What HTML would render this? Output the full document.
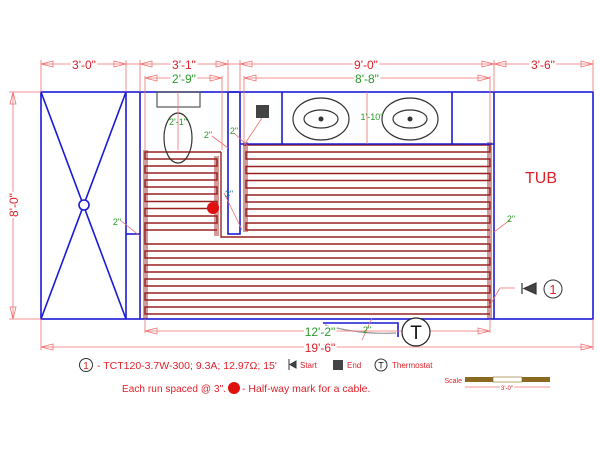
<!DOCTYPE html>
<html><head><meta charset="utf-8"><style>
html,body{margin:0;padding:0;background:#fff;width:600px;height:450px;overflow:hidden}
svg{display:block}
text{font-family:"Liberation Sans",sans-serif}
</style></head><body>
<svg width="600" height="450" viewBox="0 0 600 450" xmlns="http://www.w3.org/2000/svg">
<g fill="#c98a8a" opacity="0.85">
<rect x="143" y="150" width="5" height="169"/>
<rect x="214" y="156" width="5" height="80"/>
<rect x="243" y="142" width="5" height="90"/>
<rect x="487" y="142" width="5" height="177"/>
</g>
<g stroke="#9a2020" stroke-width="1.4" fill="none">
<path d="M221 152 H145 V159 H217 V166 H145 V173 H217 V180 H145 V187 H217 V194 H145 V201.5 H217 V208.5 H145 V216 H217 V223 H145 V230 H217"/>
<path d="M221 152 V237 H490"/>
<path d="M145 230 V237"/>
<path d="M243 145 H490 V152 H246 V159 H490 V166.5 H246 V173.5 H490 V180.5 H246 V188 H490 V195 H246 V202 H490 V209 H246 V216 H490 V223 H246 V230 H490"/>
<path d="M145 237 V244 H490 V251 H145 V258 H490 V265 H145 V272 H490 V279 H145 V286 H490 V293 H145 V300 H490 V307 H145 V314 H490"/>
</g>
<g stroke="#1a1ad6" stroke-width="1.6" fill="none">
<rect x="41" y="92" width="552" height="227"/>
<line x1="126" y1="92" x2="126" y2="319"/>
<line x1="140" y1="92" x2="140" y2="319"/>
<line x1="126" y1="234" x2="140" y2="234"/>
<line x1="41" y1="92" x2="126" y2="319"/>
<line x1="126" y1="92" x2="41" y2="319"/>
<circle cx="84" cy="205" r="5" fill="#fff"/>
<rect x="228" y="92" width="12" height="142"/>
<line x1="240" y1="144" x2="494" y2="144"/>
<line x1="282" y1="92" x2="282" y2="144"/>
<line x1="452" y1="92" x2="452" y2="144"/>
<line x1="494" y1="92" x2="494" y2="319"/>
<path d="M323 323 H398 V337"/>
</g>
<g stroke="#333" stroke-width="1.2" fill="none">
<rect x="157" y="92" width="43" height="15" stroke="#555"/>
<ellipse cx="178" cy="138" rx="14" ry="25"/>
<ellipse cx="321" cy="119" rx="28" ry="21"/>
<ellipse cx="321" cy="119" rx="17" ry="9"/>
<ellipse cx="410" cy="119" rx="28" ry="21"/>
<ellipse cx="410" cy="119" rx="17" ry="9"/>
<path d="M325 325 Q360 335 396 333" stroke="#999"/>
</g>
<circle cx="321" cy="119" r="2.5" fill="#333"/>
<circle cx="410" cy="119" r="2.5" fill="#333"/>
<rect x="256" y="105" width="13" height="13" fill="#444"/>
<circle cx="213" cy="208" r="6" fill="#e01010"/>
<g stroke="#f07070" stroke-width="0.8" fill="none">
<line x1="41" y1="64" x2="593" y2="64"/>
<line x1="145" y1="78" x2="222" y2="78"/>
<line x1="244" y1="78" x2="490" y2="78"/>
<line x1="41" y1="60" x2="41" y2="92"/><line x1="126" y1="60" x2="126" y2="92"/>
<line x1="140" y1="60" x2="140" y2="92"/><line x1="228" y1="60" x2="228" y2="92"/>
<line x1="240" y1="60" x2="240" y2="92"/><line x1="494" y1="60" x2="494" y2="92"/>
<line x1="593" y1="60" x2="593" y2="92"/>
<line x1="145" y1="76" x2="145" y2="150"/><line x1="222" y1="76" x2="222" y2="150"/>
<line x1="244" y1="76" x2="244" y2="143"/><line x1="490" y1="76" x2="490" y2="143"/>
<line x1="178" y1="92" x2="178" y2="150"/><line x1="367" y1="92" x2="367" y2="144"/>
<line x1="13" y1="92" x2="13" y2="319"/><line x1="9" y1="92" x2="41" y2="92"/><line x1="9" y1="319" x2="41" y2="319"/>
<line x1="145" y1="319" x2="145" y2="333"/><line x1="490" y1="319" x2="490" y2="333"/>
<line x1="145" y1="331" x2="490" y2="331"/>
<line x1="41" y1="319" x2="41" y2="350"/><line x1="593" y1="319" x2="593" y2="350"/>
<line x1="41" y1="347" x2="593" y2="347"/>
<path d="M41 64 l12 -3 v6z M126 64 l-12 -3 v6z M140 64 l12 -3 v6z M228 64 l-12 -3 v6z M240 64 l12 -3 v6z M494 64 l-12 -3 v6z M494 64 l12 -3 v6z M593 64 l-12 -3 v6z"/>
<path d="M145 78 l12 -3 v6z M222 78 l-12 -3 v6z M244 78 l12 -3 v6z M490 78 l-12 -3 v6z"/>
<path d="M13 92 l-3 12 h6z M13 319 l-3 -12 h6z"/>
<path d="M145 331 l12 -3 v6z M490 331 l-12 -3 v6z M41 347 l12 -3 v6z M593 347 l-12 -3 v6z"/>
<path d="M510 220 L494 232 M212 136 L228 148 M234 133 L248 146 M120 220 L140 236 M224 193 L242 230 M372 318 L362 340 M515 288 L500 288 L490 305 M262 118 L244 145"/>
</g>
<g font-size="12" fill="#e0202a" text-anchor="middle">
<text x="84" y="69" stroke="#fff" stroke-width="4" style="paint-order:stroke">3'-0"</text>
<text x="184" y="69" stroke="#fff" stroke-width="4" style="paint-order:stroke">3'-1"</text>
<text x="366" y="69" stroke="#fff" stroke-width="4" style="paint-order:stroke">9'-0"</text>
<text x="543" y="69" stroke="#fff" stroke-width="4" style="paint-order:stroke">3'-6"</text>
<text x="320" y="352" stroke="#fff" stroke-width="4" style="paint-order:stroke">19'-6"</text>
<text transform="translate(18,205) rotate(-90)" stroke="#fff" stroke-width="4" style="paint-order:stroke">8'-0"</text>
<text x="541" y="183" font-size="16">TUB</text>
</g>
<g font-size="12" fill="#2a9a2a" text-anchor="middle">
<text x="184" y="83" stroke="#fff" stroke-width="4" style="paint-order:stroke">2'-9"</text>
<text x="367" y="83" stroke="#fff" stroke-width="4" style="paint-order:stroke">8'-8"</text>
<text x="320" y="336" stroke="#fff" stroke-width="4" style="paint-order:stroke">12'-2"</text>
</g>
<g font-size="9" fill="#2a9a2a" text-anchor="middle">
<text x="178" y="125">2'-1"</text>
<text x="208" y="138">2"</text>
<text x="234" y="134">2"</text>
<text x="117" y="225">2"</text>
<text x="372" y="120">1'-10"</text>
<text x="511" y="222">2"</text>
<text x="367" y="333">2"</text>
<text x="229" y="197" fill="#2a6aa0">3"</text>
</g>
<circle cx="416" cy="332" r="14" fill="#fff" stroke="#222" stroke-width="1.2"/>
<text x="416" y="339" font-size="19" text-anchor="middle" fill="#111">T</text>
<path d="M522 283 V294 M536 283 L524 288.5 L536 294 Z" stroke="#333" fill="#444" stroke-width="1.2"/>
<circle cx="553" cy="289" r="9" fill="#fff" stroke="#333"/>
<text x="553" y="294" font-size="13" text-anchor="middle" fill="#e0202a">1</text>
<circle cx="86" cy="365" r="6.5" fill="#fff" stroke="#333"/>
<text x="86" y="369" font-size="10" text-anchor="middle" fill="#e0202a">1</text>
<text x="97" y="369" font-size="10.5" fill="#e0202a">- TCT120-3.7W-300; 9.3A; 12.97Ω; 15'</text>
<path d="M289 359 V370 M296 361 L290 364.5 L296 368 Z" stroke="#333" fill="#444"/>
<text x="300" y="368" font-size="8" fill="#e0202a">Start</text>
<rect x="333" y="360" width="10" height="10" fill="#444"/>
<text x="347" y="368" font-size="8" fill="#e0202a">End</text>
<circle cx="381" cy="365" r="6" fill="#fff" stroke="#333"/>
<text x="381" y="368.5" font-size="9" text-anchor="middle" fill="#111">T</text>
<text x="392" y="368" font-size="8" fill="#e0202a">Thermostat</text>
<text x="122" y="392" font-size="10" fill="#e0202a" textLength="104">Each run spaced @ 3".</text>
<circle cx="234" cy="388" r="6" fill="#e01010"/>
<text x="242" y="392" font-size="10.5" fill="#e0202a">- Half-way mark for a cable.</text>
<text x="462" y="383" font-size="7" text-anchor="end" fill="#e0202a">Scale</text>
<rect x="465" y="377" width="28" height="5" fill="#8a6a20"/>
<rect x="493" y="377" width="29" height="5" fill="#fff" stroke="#8a6a20" stroke-width="0.6"/>
<rect x="522" y="377" width="28" height="5" fill="#8a6a20"/>
<line x1="465" y1="387" x2="550" y2="387" stroke="#f07070" stroke-width="0.7"/>
<text x="507" y="390" font-size="6" text-anchor="middle" fill="#e0202a" stroke="#fff" stroke-width="3" style="paint-order:stroke">3'-0"</text>
</svg>
</body></html>
